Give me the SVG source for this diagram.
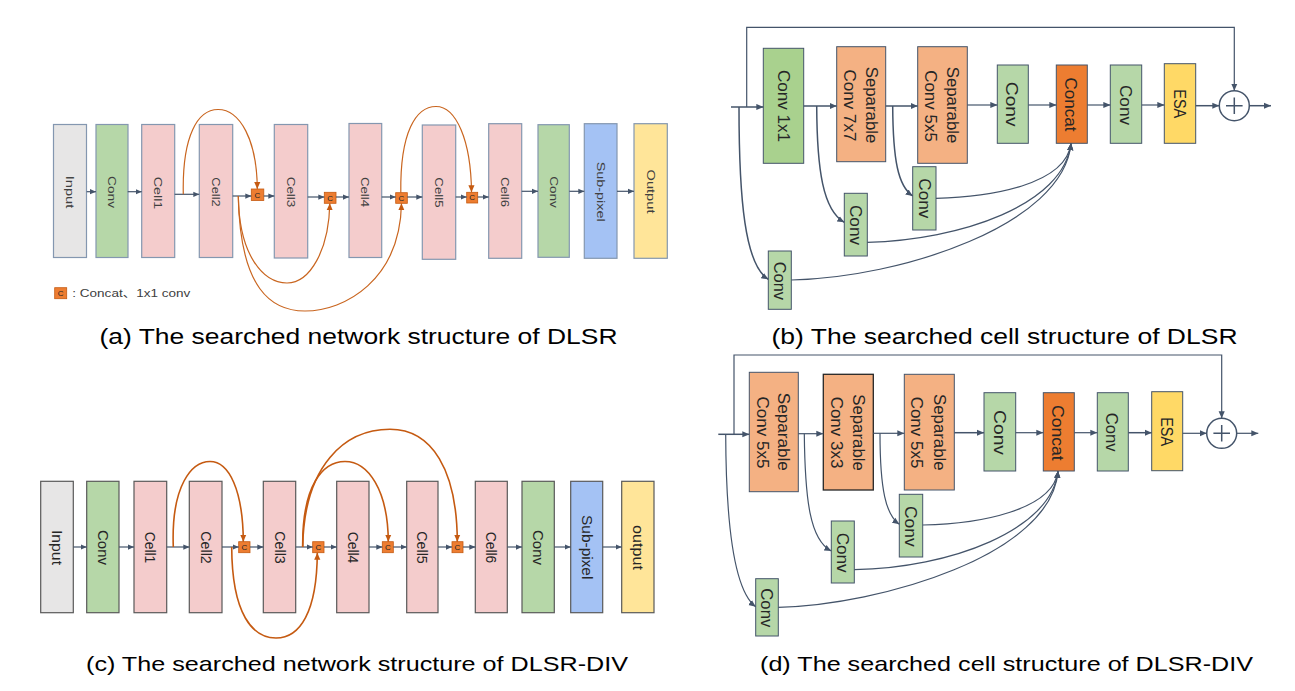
<svg xmlns="http://www.w3.org/2000/svg" width="1295" height="691" viewBox="0 0 1295 691">
<defs>
<style>
.ln{stroke:#44546a;stroke-width:1.5;fill:none}
.lt{stroke:#44546a;stroke-width:1.2;fill:none}
.or{stroke:#c9651f;stroke-width:1.2;fill:none}
.or2{stroke:#c55a11;stroke-width:1.6;fill:none}
.ba{stroke:#8497b0;stroke-width:1.2}
.bb{stroke:#44546a;stroke-width:1}
.bc{stroke:#595959;stroke-width:1.2}
.gray{fill:#e7e6e6}
.green{fill:#b6d7a8}
.dgreen{fill:#a9d18e}
.pink{fill:#f4cccc}
.blue{fill:#a4c2f4}
.yel{fill:#ffe599}
.esa{fill:#ffd966}
.sep{fill:#f4b183}
.cat{fill:#ed7d31}
.cbox{fill:#ed7d31;stroke:#c55a11;stroke-width:0.8}
.t{font-family:"Liberation Sans","Noto Sans CJK SC",sans-serif;text-anchor:middle;dominant-baseline:central;fill:#262626}
.ta{font-size:11.5px;fill:#404040}
.tb{font-size:16.5px}
.tc{font-size:14px}
.ts{font-family:"Liberation Sans",sans-serif;font-size:8px;text-anchor:middle;dominant-baseline:central;fill:#262626}
.cap{font-family:"Liberation Sans","Noto Sans CJK SC",sans-serif;text-anchor:middle;fill:#000}
</style>
<marker id="ah" viewBox="0 0 8 8" refX="8" refY="4" markerWidth="7" markerHeight="7" markerUnits="userSpaceOnUse" orient="auto"><path d="M0,0.5 L8,4 L0,7.5 z" fill="#44546a"/></marker>
<marker id="ahs" viewBox="0 0 8 8" refX="8" refY="4" markerWidth="6" markerHeight="6" markerUnits="userSpaceOnUse" orient="auto"><path d="M0,0.5 L8,4 L0,7.5 z" fill="#44546a"/></marker>
<marker id="ao" viewBox="0 0 8 8" refX="8" refY="4" markerWidth="7" markerHeight="7" markerUnits="userSpaceOnUse" orient="auto"><path d="M0,0.5 L8,4 L0,7.5 z" fill="#c55a11"/></marker>
</defs>
<rect width="1295" height="691" fill="#fff"/>

<!-- ========== Panel (a) ========== -->
<g id="a-input"><rect x="53.5" y="124.5" width="33" height="133" class="gray ba"/><text class="t ta" transform="translate(70,192) rotate(90)" textLength="32.7" lengthAdjust="spacingAndGlyphs">Input</text></g>
<g id="a-conv1"><rect x="96" y="124.5" width="32" height="133" class="green ba"/><text class="t ta" transform="translate(112,192) rotate(90)" textLength="32" lengthAdjust="spacingAndGlyphs">Conv</text></g>
<g id="a-cell1"><rect x="141.7" y="124.5" width="33" height="133" class="pink ba"/><text class="t ta" transform="translate(158.2,193) rotate(90)" textLength="32.7" lengthAdjust="spacingAndGlyphs">Cell1</text></g>
<g id="a-cell2"><rect x="199.3" y="124.5" width="33.4" height="133" class="pink ba"/><text class="t ta" transform="translate(216,192) rotate(90)" textLength="29.3" lengthAdjust="spacingAndGlyphs">Cell2</text></g>
<g id="a-c1"><rect x="251.3" y="189" width="12.5" height="11.5" class="cbox"/><text class="ts" x="257.5" y="195">C</text></g>
<g id="a-cell3"><rect x="274.3" y="124.5" width="33.4" height="133.5" class="pink ba"/><text class="t ta" transform="translate(291,192) rotate(90)" textLength="30.7" lengthAdjust="spacingAndGlyphs">Cell3</text></g>
<g id="a-c2"><rect x="324.3" y="192.3" width="11.7" height="11" class="cbox"/><text class="ts" x="330.2" y="198">C</text></g>
<g id="a-cell4"><rect x="349" y="123.5" width="32.7" height="134" class="pink ba"/><text class="t ta" transform="translate(365.3,192) rotate(90)" textLength="30" lengthAdjust="spacingAndGlyphs">Cell4</text></g>
<g id="a-c3"><rect x="395.7" y="192.7" width="11.6" height="10.6" class="cbox"/><text class="ts" x="401.5" y="198">C</text></g>
<g id="a-cell5"><rect x="422.3" y="125" width="33.4" height="134.3" class="pink ba"/><text class="t ta" transform="translate(439,192.5) rotate(90)" textLength="30.3" lengthAdjust="spacingAndGlyphs">Cell5</text></g>
<g id="a-c4"><rect x="466.7" y="192.3" width="11" height="10.7" class="cbox"/><text class="ts" x="472.2" y="197.7">C</text></g>
<g id="a-cell6"><rect x="488.7" y="123.7" width="33" height="134.6" class="pink ba"/><text class="t ta" transform="translate(505.2,192) rotate(90)" textLength="30" lengthAdjust="spacingAndGlyphs">Cell6</text></g>
<g id="a-conv2"><rect x="538" y="124.7" width="31.3" height="132.6" class="green ba"/><text class="t ta" transform="translate(553.7,192) rotate(90)" textLength="31.7" lengthAdjust="spacingAndGlyphs">Conv</text></g>
<g id="a-subpixel"><rect x="584.3" y="123.7" width="32.7" height="134.6" class="blue ba"/><text class="t ta" transform="translate(600.7,191.7) rotate(90)" textLength="60" lengthAdjust="spacingAndGlyphs">Sub-pixel</text></g>
<g id="a-output"><rect x="634" y="123.7" width="33.3" height="134.6" class="yel ba"/><text class="t ta" transform="translate(650.7,191.5) rotate(90)" textLength="44" lengthAdjust="spacingAndGlyphs">Output</text></g>
<g id="a-legend"><rect x="54.7" y="287.7" width="12" height="11" class="cbox"/><text class="ts" x="60.7" y="293.2">C</text><text x="72.3" y="297" font-family="'Liberation Sans','Noto Sans CJK SC',sans-serif" font-size="11.5" fill="#404040" textLength="118" lengthAdjust="spacingAndGlyphs">: Concat、1x1 conv</text></g>

<g id="a-connectors">
<line x1="86.7" y1="191.7" x2="96" y2="191.7" class="lt" marker-end="url(#ahs)"/>
<line x1="127.7" y1="191.7" x2="141.7" y2="191.7" class="lt" marker-end="url(#ahs)"/>
<line x1="174.7" y1="194.3" x2="199.3" y2="194.3" class="lt" marker-end="url(#ahs)"/>
<line x1="232.7" y1="196" x2="251.3" y2="196" class="lt" marker-end="url(#ahs)"/>
<line x1="263.8" y1="196" x2="274.3" y2="196" class="lt" marker-end="url(#ahs)"/>
<line x1="307.7" y1="197" x2="324.3" y2="197" class="lt" marker-end="url(#ahs)"/>
<line x1="336" y1="197" x2="349" y2="197" class="lt" marker-end="url(#ahs)"/>
<line x1="381.7" y1="197" x2="395.7" y2="197" class="lt" marker-end="url(#ahs)"/>
<line x1="407.3" y1="197" x2="422.3" y2="197" class="lt" marker-end="url(#ahs)"/>
<line x1="455.7" y1="197" x2="466.7" y2="197" class="lt" marker-end="url(#ahs)"/>
<line x1="477.7" y1="197" x2="488.7" y2="197" class="lt" marker-end="url(#ahs)"/>
<line x1="521.7" y1="191.3" x2="538" y2="191.3" class="lt" marker-end="url(#ahs)"/>
<line x1="569.3" y1="191.3" x2="584.3" y2="191.3" class="lt" marker-end="url(#ahs)"/>
<line x1="617" y1="191.3" x2="634" y2="191.3" class="lt" marker-end="url(#ahs)"/>
<path d="M183.3,194.3 C182,135 198,109.5 218,109.5 C240,109.5 257,140 257.3,189" class="or" marker-end="url(#ao)"/>
<path d="M238.3,196 C239,255 263,283 287,283 C310,283 329,250 329.8,203.3" class="or" marker-end="url(#ao)"/>
<path d="M238.3,196 C240,290 272,311 305,311 C345,311 400,280 401.5,203.3" class="or" marker-end="url(#ao)"/>
<path d="M400.8,192.7 C400,132 416,106.5 436,106.5 C456,106.5 471,140 471.5,192.3" class="or" marker-end="url(#ao)"/>
</g>

<!-- ========== Panel (b) ========== -->
<g id="b-conv1x1"><rect x="763.3" y="48.3" width="40.4" height="115" class="dgreen bb"/><text class="t tb" transform="translate(783.5,106) rotate(90)" textLength="72" lengthAdjust="spacingAndGlyphs">Conv 1x1</text></g>
<g id="b-sep7"><rect x="836.7" y="46.7" width="49" height="115" class="sep bb"/><text class="t tb" transform="translate(871.5,105) rotate(90)" textLength="76.7" lengthAdjust="spacingAndGlyphs">Separable</text><text class="t tb" transform="translate(849.5,105.5) rotate(90)" textLength="72" lengthAdjust="spacingAndGlyphs">Conv 7x7</text></g>
<g id="b-sep5"><rect x="917.7" y="46.7" width="49.6" height="116.6" class="sep bb"/><text class="t tb" transform="translate(952.5,105) rotate(90)" textLength="76.7" lengthAdjust="spacingAndGlyphs">Separable</text><text class="t tb" transform="translate(930.5,106) rotate(90)" textLength="71.7" lengthAdjust="spacingAndGlyphs">Conv 5x5</text></g>
<g id="b-conv"><rect x="997.3" y="65" width="31" height="78.3" class="green bb"/><text class="t tb" transform="translate(1012,104.2) rotate(90)" textLength="45" lengthAdjust="spacingAndGlyphs">Conv</text></g>
<g id="b-concat"><rect x="1056.3" y="65" width="31" height="78.3" class="cat bb"/><text class="t tb" transform="translate(1071,104.5) rotate(90)" textLength="54" lengthAdjust="spacingAndGlyphs">Concat</text></g>
<g id="b-conv2"><rect x="1110.3" y="65" width="31.4" height="78.3" class="green bb"/><text class="t tb" transform="translate(1125.5,105) rotate(90)" textLength="40" lengthAdjust="spacingAndGlyphs">Conv</text></g>
<g id="b-esa"><rect x="1164.3" y="63.7" width="31.4" height="79.6" class="esa bb"/><text class="t tb" transform="translate(1179.5,103.8) rotate(90)" textLength="29" lengthAdjust="spacingAndGlyphs">ESA</text></g>
<g id="b-add"><circle cx="1234.3" cy="105.7" r="15" fill="#fff" class="ln"/><path d="M1226,105.7 H1242.6 M1234.3,97.4 V114" class="ln"/></g>
<g id="b-convA"><rect x="912.7" y="166.7" width="23.3" height="63.3" class="green bb"/><text class="t tb" transform="translate(924.5,198.3) rotate(90)" textLength="40" lengthAdjust="spacingAndGlyphs">Conv</text></g>
<g id="b-convB"><rect x="844.3" y="193.3" width="23" height="62.7" class="green bb"/><text class="t tb" transform="translate(856,225) rotate(90)" textLength="40" lengthAdjust="spacingAndGlyphs">Conv</text></g>
<g id="b-convC"><rect x="768.3" y="251" width="23" height="58.3" class="green bb"/><text class="t tb" transform="translate(779.5,280.8) rotate(90)" textLength="38.3" lengthAdjust="spacingAndGlyphs">Conv</text></g>

<g id="b-connectors">
<line x1="731" y1="107" x2="763.3" y2="107" class="ln" marker-end="url(#ah)"/>
<line x1="803.7" y1="106" x2="836.7" y2="106" class="ln" marker-end="url(#ah)"/>
<line x1="885.7" y1="106" x2="917.7" y2="106" class="ln" marker-end="url(#ah)"/>
<line x1="967.3" y1="105" x2="997.3" y2="105" class="lt" marker-end="url(#ah)"/>
<line x1="1028.3" y1="105" x2="1056.3" y2="105" class="lt" marker-end="url(#ah)"/>
<line x1="1087.3" y1="105" x2="1110.3" y2="105" class="lt" marker-end="url(#ah)"/>
<line x1="1141.7" y1="105" x2="1164.3" y2="105" class="lt" marker-end="url(#ah)"/>
<line x1="1195.7" y1="105.7" x2="1219.3" y2="105.7" class="ln" marker-end="url(#ah)"/>
<line x1="1249.3" y1="105.7" x2="1271" y2="105.7" class="ln" marker-end="url(#ah)"/>
<path d="M746.7,107 V27.3 H1234.3 V90.7" class="lt" marker-end="url(#ah)"/>
<path d="M739,107 C739,200 745,265 768.3,279.3" class="ln" marker-end="url(#ah)"/>
<path d="M816.7,106 C817,170 823,210 844.3,222.3" class="ln" marker-end="url(#ah)"/>
<path d="M892.7,106 C893,160 898,186 912.7,196" class="ln" marker-end="url(#ah)"/>
<path d="M936,198.3 C990,197 1066,185 1071,143.3" class="lt" marker-end="url(#ah)"/>
<path d="M867.3,242.3 C960,240 1064,205 1071,143.3" class="lt" marker-end="url(#ah)"/>
<path d="M791.3,280 C900,278 1064,225 1071,143.3" class="lt" marker-end="url(#ah)"/>
</g>

<!-- ========== Panel (c) ========== -->
<g id="c-input"><rect x="40.7" y="481.3" width="32.6" height="131.4" class="gray bc"/><text class="t tc" transform="translate(57,547.5) rotate(90)" textLength="35" lengthAdjust="spacingAndGlyphs">Input</text></g>
<g id="c-conv1"><rect x="86.7" y="481.3" width="32.3" height="131.4" class="green bc"/><text class="t tc" transform="translate(103,547.5) rotate(90)" textLength="35" lengthAdjust="spacingAndGlyphs">Conv</text></g>
<g id="c-cell1"><rect x="134" y="481.3" width="32.7" height="131.4" class="pink bc"/><text class="t tc" transform="translate(150.3,547.5) rotate(90)" textLength="31.7" lengthAdjust="spacingAndGlyphs">Cell1</text></g>
<g id="c-cell2"><rect x="189.3" y="481.3" width="32.7" height="131.4" class="pink bc"/><text class="t tc" transform="translate(205.7,547.5) rotate(90)" textLength="32.3" lengthAdjust="spacingAndGlyphs">Cell2</text></g>
<g id="c-c1"><rect x="238.7" y="541.7" width="11.3" height="11" class="cbox"/><text class="ts" x="244.3" y="547.2">C</text></g>
<g id="c-cell3"><rect x="263.3" y="481.3" width="32.4" height="131.4" class="pink bc"/><text class="t tc" transform="translate(279.5,547.5) rotate(90)" textLength="32.3" lengthAdjust="spacingAndGlyphs">Cell3</text></g>
<g id="c-c2"><rect x="312.7" y="541.7" width="11.3" height="11" class="cbox"/><text class="ts" x="318.3" y="547.2">C</text></g>
<g id="c-cell4"><rect x="336.7" y="481.3" width="32.3" height="131.4" class="pink bc"/><text class="t tc" transform="translate(352.8,547.5) rotate(90)" textLength="31.7" lengthAdjust="spacingAndGlyphs">Cell4</text></g>
<g id="c-c3"><rect x="382.3" y="541.7" width="11" height="11" class="cbox"/><text class="ts" x="387.8" y="547.2">C</text></g>
<g id="c-cell5"><rect x="406.7" y="481.3" width="31.3" height="131.4" class="pink bc"/><text class="t tc" transform="translate(422.3,547.5) rotate(90)" textLength="32.3" lengthAdjust="spacingAndGlyphs">Cell5</text></g>
<g id="c-c4"><rect x="452" y="541.7" width="11" height="11" class="cbox"/><text class="ts" x="457.5" y="547.2">C</text></g>
<g id="c-cell6"><rect x="475.3" y="481.3" width="32" height="131.4" class="pink bc"/><text class="t tc" transform="translate(491.3,547.5) rotate(90)" textLength="31.7" lengthAdjust="spacingAndGlyphs">Cell6</text></g>
<g id="c-conv2"><rect x="522" y="481.3" width="32.3" height="131.4" class="green bc"/><text class="t tc" transform="translate(538.2,547.5) rotate(90)" textLength="35" lengthAdjust="spacingAndGlyphs">Conv</text></g>
<g id="c-subpixel"><rect x="570.7" y="481.3" width="32" height="131.4" class="blue bc"/><text class="t tc" transform="translate(586.7,547.2) rotate(90)" textLength="64.3" lengthAdjust="spacingAndGlyphs">Sub-pixel</text></g>
<g id="c-output"><rect x="621.7" y="481.3" width="32.3" height="131.4" class="yel bc"/><text class="t tc" transform="translate(637.8,547.5) rotate(90)" textLength="45" lengthAdjust="spacingAndGlyphs">output</text></g>

<g id="c-connectors">
<line x1="73.3" y1="547" x2="86.7" y2="547" class="lt" marker-end="url(#ahs)"/>
<line x1="119" y1="547" x2="134" y2="547" class="lt" marker-end="url(#ahs)"/>
<line x1="166.7" y1="547" x2="189.3" y2="547" class="lt" marker-end="url(#ahs)"/>
<line x1="222" y1="547" x2="238.7" y2="547" class="lt" marker-end="url(#ahs)"/>
<line x1="250" y1="547" x2="263.3" y2="547" class="lt" marker-end="url(#ahs)"/>
<line x1="295.7" y1="547" x2="312.7" y2="547" class="lt" marker-end="url(#ahs)"/>
<line x1="324" y1="547" x2="336.7" y2="547" class="lt" marker-end="url(#ahs)"/>
<line x1="369" y1="547" x2="382.3" y2="547" class="lt" marker-end="url(#ahs)"/>
<line x1="393.3" y1="547" x2="406.7" y2="547" class="lt" marker-end="url(#ahs)"/>
<line x1="438" y1="547" x2="452" y2="547" class="lt" marker-end="url(#ahs)"/>
<line x1="463" y1="547" x2="475.3" y2="547" class="lt" marker-end="url(#ahs)"/>
<line x1="507.3" y1="547" x2="522" y2="547" class="lt" marker-end="url(#ahs)"/>
<line x1="554.3" y1="547" x2="570.7" y2="547" class="lt" marker-end="url(#ahs)"/>
<line x1="602.7" y1="547" x2="621.7" y2="547" class="lt" marker-end="url(#ahs)"/>
<path d="M173.3,547 C171,485 192,461.5 210,461.5 C229,461.5 243,490 243.3,541.7" class="or2" marker-end="url(#ao)"/>
<path d="M231.7,547 C232,615 253,638 276,638 C300,638 317,612 317.3,552.7" class="or2" marker-end="url(#ao)"/>
<path d="M302.7,547 C302,485 323,461.5 345,461.5 C368,461.5 388,490 388.3,541.7" class="or2" marker-end="url(#ao)"/>
<path d="M302.7,547 C304,465 345,429.3 390,429.3 C432,429.3 457,470 457.3,541.7" class="or2" marker-end="url(#ao)"/>
</g>

<!-- ========== Panel (d) ========== -->
<g id="d-sep5a"><rect x="749.3" y="372.3" width="49" height="119.4" class="sep bb"/><text class="t tb" transform="translate(784,431.8) rotate(90)" textLength="78" lengthAdjust="spacingAndGlyphs">Separable</text><text class="t tb" transform="translate(762.5,432.5) rotate(90)" textLength="72" lengthAdjust="spacingAndGlyphs">Conv 5x5</text></g>
<g id="d-sep3"><rect x="823.3" y="374.3" width="50" height="115.7" fill="#f4b183" stroke="#262626" stroke-width="1.3"/><text class="t tb" transform="translate(859,432.5) rotate(90)" textLength="76.7" lengthAdjust="spacingAndGlyphs">Separable</text><text class="t tb" transform="translate(836.5,432.5) rotate(90)" textLength="71.7" lengthAdjust="spacingAndGlyphs">Conv 3x3</text></g>
<g id="d-sep5b"><rect x="904.3" y="374.3" width="50" height="115.7" class="sep bb"/><text class="t tb" transform="translate(940,432.3) rotate(90)" textLength="76.7" lengthAdjust="spacingAndGlyphs">Separable</text><text class="t tb" transform="translate(917,432.5) rotate(90)" textLength="71.7" lengthAdjust="spacingAndGlyphs">Conv 5x5</text></g>
<g id="d-conv"><rect x="984" y="392.7" width="31.7" height="78.3" class="green bb"/><text class="t tb" transform="translate(999.5,432.5) rotate(90)" textLength="45" lengthAdjust="spacingAndGlyphs">Conv</text></g>
<g id="d-concat"><rect x="1043.3" y="392.7" width="31" height="78.3" class="cat bb"/><text class="t tb" transform="translate(1057.8,432.8) rotate(90)" textLength="55.7" lengthAdjust="spacingAndGlyphs">Concat</text></g>
<g id="d-conv2"><rect x="1097.3" y="392.7" width="31" height="78.3" class="green bb"/><text class="t tb" transform="translate(1112,432.2) rotate(90)" textLength="39" lengthAdjust="spacingAndGlyphs">Conv</text></g>
<g id="d-esa"><rect x="1151.7" y="391.7" width="31" height="79" class="esa bb"/><text class="t tb" transform="translate(1166.5,431.7) rotate(90)" textLength="29" lengthAdjust="spacingAndGlyphs">ESA</text></g>
<g id="d-add"><circle cx="1221.7" cy="433.3" r="15" fill="#fff" class="ln"/><path d="M1213.4,433.3 H1230 M1221.7,425 V441.6" class="ln"/></g>
<g id="d-convA"><rect x="899.3" y="494.3" width="23.4" height="62.7" class="green bb"/><text class="t tb" transform="translate(910.5,526.3) rotate(90)" textLength="40.7" lengthAdjust="spacingAndGlyphs">Conv</text></g>
<g id="d-convB"><rect x="831.3" y="521" width="23" height="62" class="green bb"/><text class="t tb" transform="translate(842.8,552.7) rotate(90)" textLength="40" lengthAdjust="spacingAndGlyphs">Conv</text></g>
<g id="d-convC"><rect x="755.7" y="578.7" width="22.6" height="57.3" class="green bb"/><text class="t tb" transform="translate(766.5,607.8) rotate(90)" textLength="39" lengthAdjust="spacingAndGlyphs">Conv</text></g>

<g id="d-connectors">
<line x1="718.3" y1="434.3" x2="749.3" y2="434.3" class="ln" marker-end="url(#ah)"/>
<line x1="798.3" y1="433.7" x2="823.3" y2="433.7" class="lt" marker-end="url(#ah)"/>
<line x1="873.3" y1="433.3" x2="904.3" y2="433.3" class="lt" marker-end="url(#ah)"/>
<line x1="954.3" y1="432.7" x2="984" y2="432.7" class="ln" marker-end="url(#ah)"/>
<line x1="1015.7" y1="432.7" x2="1043.3" y2="432.7" class="lt" marker-end="url(#ah)"/>
<line x1="1074.3" y1="432.7" x2="1097.3" y2="432.7" class="lt" marker-end="url(#ah)"/>
<line x1="1128.3" y1="432.7" x2="1151.7" y2="432.7" class="ln" marker-end="url(#ah)"/>
<line x1="1182.7" y1="433.3" x2="1206.7" y2="433.3" class="lt" marker-end="url(#ah)"/>
<line x1="1236.7" y1="433.3" x2="1258.3" y2="433.3" class="lt" marker-end="url(#ah)"/>
<path d="M734,434.3 V355 H1221.7 V418.3" class="lt" marker-end="url(#ah)"/>
<path d="M725.7,434.3 C726,520 733,590 755.7,606.7" class="lt" marker-end="url(#ah)"/>
<path d="M804.3,433.7 C805,500 810,540 831.3,551" class="lt" marker-end="url(#ah)"/>
<path d="M880,433.3 C880,490 886,515 899.3,524.3" class="lt" marker-end="url(#ah)"/>
<path d="M922.7,525 C980,524 1053,510 1058,471" class="lt" marker-end="url(#ah)"/>
<path d="M854.3,569.7 C950,568 1052,530 1058,471" class="lt" marker-end="url(#ah)"/>
<path d="M778.3,607.3 C880,605 1052,555 1058,471" class="lt" marker-end="url(#ah)"/>
</g>

<!-- Captions -->
<text class="cap" x="358.5" y="344" font-size="22" textLength="518" lengthAdjust="spacingAndGlyphs">(a) The searched network structure of DLSR</text>
<text class="cap" x="1004.5" y="344" font-size="22" textLength="466" lengthAdjust="spacingAndGlyphs">(b) The searched cell structure of DLSR</text>
<text class="cap" x="357" y="671" font-size="21" textLength="542" lengthAdjust="spacingAndGlyphs">(c) The searched network structure of DLSR-DIV</text>
<text class="cap" x="1006.5" y="671" font-size="21" textLength="493" lengthAdjust="spacingAndGlyphs">(d) The searched cell structure of DLSR-DIV</text>
</svg>
